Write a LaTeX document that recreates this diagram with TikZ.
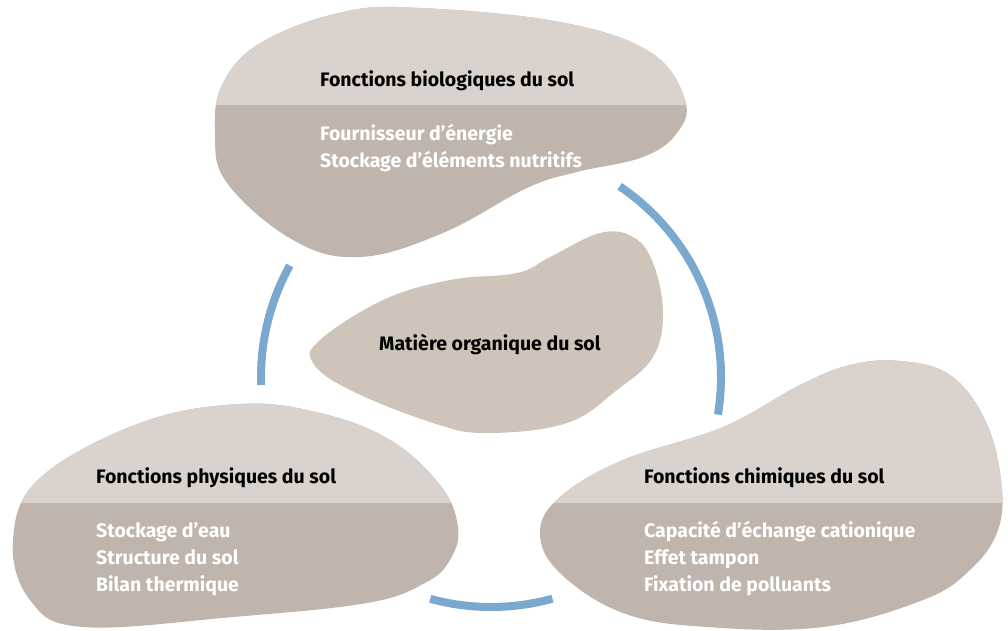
\documentclass[tikz,border=0pt]{standalone}
\usepackage{fontspec}
\setmainfont{Fira Sans}
\usetikzlibrary{calc}
\definecolor{blobLight}{HTML}{D9D2CD}
\definecolor{blobDark}{HTML}{BFB5AD}
\definecolor{blobMid}{HTML}{CEC4BA}
\definecolor{arcBlue}{HTML}{7BA8CF}
\tikzset{
  title/.style={anchor=base west, inner sep=0pt, font=\fontsize{19.5}{22}\selectfont\bfseries, text=black},
  item/.style={anchor=base west, inner sep=0pt, font=\fontsize{19.5}{22}\selectfont\bfseries, text=white},
  blobsmooth/.style={smooth cycle, tension=0.65}
}
\newcommand\blobTop{plot[blobsmooth] coordinates {(343,12) (420,8) (560,22) (650,52) (685,100) (677,133) (643,157) (577,172) (527,188) (443,233) (360,257) (293,240) (227,183) (215,133) (223,83) (262,42)}}
\newcommand\blobLeft{plot[blobsmooth] coordinates {(240,404) (320,413) (390,440) (440,485) (458,527) (450,560) (425,583) (367,603) (233,617) (83,627) (30,600) (13,540) (40,478) (140,423)}}
\newcommand\blobRight{plot[blobsmooth] coordinates {(900,361) (950,375) (985,420) (1001,480) (998,530) (970,570) (923,600) (823,627) (707,627) (623,613) (560,573) (540,533) (560,497) (623,460) (723,427) (800,385) (850,365)}}
\newcommand\blobMidPath{plot[blobsmooth] coordinates {(633,237) (600,233) (550,257) (517,273) (450,280) (383,300) (320,340) (313,363) (350,390) (433,423) (487,433) (567,423) (617,390) (653,357) (663,313) (653,263)}}
\newcommand\blueArc[2]{%
  \fill[arcBlue] ([shift={(c)}]#1:234) arc[start angle=#1, end angle=#2, radius=234]
    -- ([shift={(c)}]#2:230) -- ([shift={(c)}]#2:226)
    arc[start angle=#2, end angle=#1, radius=226] -- ([shift={(c)}]#1:230) -- cycle;}
\begin{document}
\begin{tikzpicture}[x=1pt,y=-1pt]
\useasboundingbox (0,0) rectangle (1008,630);
\coordinate (c) at (491,377);
% blobs
\fill[blobDark] \blobTop;
\begin{scope}\clip \blobTop; \fill[blobLight] (0,0) rectangle (1008,105);\end{scope}
\fill[blobDark] \blobLeft;
\begin{scope}\clip \blobLeft; \fill[blobLight] (0,380) rectangle (1008,503);\end{scope}
\fill[blobDark] \blobRight;
\begin{scope}\clip \blobRight; \fill[blobLight] (0,340) rectangle (1008,503);\end{scope}
\fill[blobMid] \blobMidPath;
% arcs
\blueArc{-56}{9.4}
\blueArc{-151}{-182}
\blueArc{105.3}{74.5}
% texts
\node[title] (bio) at (320,86) {Fonctions biologiques du sol};
\node[item] (bio1) at (320,140) {Fournisseur d’énergie};
\node[item] (bio2) at (320,167) {Stockage d’éléments nutritifs};
\node[title] (mo) at (379,350) {Matière organique du sol};
\node[title] (phy) at (96,483) {Fonctions physiques du sol};
\node[item] (phy1) at (96,537) {Stockage d’eau};
\node[item] (phy2) at (96,564) {Structure du sol};
\node[item] (phy3) at (96,591) {Bilan thermique};
\node[title] (chi) at (644,483) {Fonctions chimiques du sol};
\node[item] (chi1) at (644,537) {Capacité d’échange cationique};
\node[item] (chi2) at (644,564) {Effet tampon};
\node[item] (chi3) at (644,591) {Fixation de polluants};
\end{tikzpicture}
\end{document}
